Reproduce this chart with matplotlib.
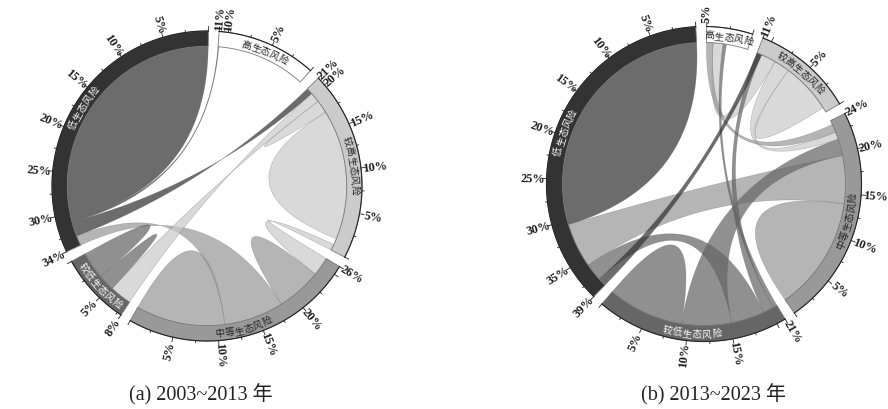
#!/usr/bin/python
# -*- coding: utf-8 -*-
import numpy as np
from matplotlib import pyplot as plt
from matplotlib.colors import to_rgb
from matplotlib.path import Path
from matplotlib.patches import PathPatch

names = ['高生态风险', '较高生态风险', '中等生态风险', '较低生态风险', '低生态风险']
values_a = [11, 21, 26, 8, 34]
values_b = [5, 11, 24, 21, 39]

tick_labels_a = [[5, 10, 11], [5, 10, 15, 20, 21], [5, 10, 15, 20, 26], [5, 8], [5, 10, 15, 20, 25, 30, 34]]
tick_labels_b = [[5], [5, 11], [5, 10, 15, 20, 24], [5, 10, 15, 21], [5, 10, 15, 20, 25, 30, 35, 39]]

# (sector, from %, to %, sector, from %, to %), colour comes from the first sector
flows_a = [
    (4, 0, 15.35, 4, 15.35, 30.7),
    (4, 30.7, 31, 0, 10.9, 11),
    (4, 31, 32.8, 1, 21, 20.2),
    (1, 1.5, 9.4, 1, 9.4, 17.4),
    (1, 17.4, 18.2, 1, 18.2, 19),
    (2, 0, 5.45, 2, 5.45, 10.9),
    (2, 18.2, 10.9, 4, 32.8, 34),
    (2, 18.2, 21, 2, 21, 23.7),
    (1, 0, 0.75, 2, 23.7, 26),
    (3, 0, 1.65, 3, 1.65, 3.3),
    (3, 3.3, 4.3, 3, 4.3, 5.35),
    (1, 19, 20.2, 3, 8, 5.35),
]
flows_b = [
    (4, 0, 15.25, 4, 15.25, 30.5),
    (2, 0, 6.9, 2, 6.9, 13.8),
    (2, 13.8, 19.6, 4, 30.5, 35.9),
    (1, 0.6, 3.6, 1, 3.6, 6.7),
    (1, 6.7, 8.6, 2, 21.6, 22.5),
    (1, 10.4, 8.6, 0, 3, 4.2),
    (2, 22.5, 23.5, 0, 4.2, 5),
    (3, 0, 4.6, 3, 4.6, 9.2),
    (3, 9.2, 15.2, 2, 19.6, 21.6),
    (3, 15.2, 19.2, 4, 35.9, 38),
    (3, 19.2, 20.5, 1, 10.4, 11),
    (3, 20.5, 21, 0, 2.6, 3),
    (4, 38, 39, 1, 10.4, 11),
]

band_colors = ['#ffffff', '#cbcbcb', '#999999', '#666666', '#333333']
text_colors = ['#222222', '#222222', '#222222', '#ffffff', '#ffffff']
GAP = 4.0
SCALE = 3.4


def pt(c, r, th):
    th = np.radians(th)
    return np.column_stack([c[0] + r * np.sin(th), c[1] - r * np.cos(th)])


def bezier(p0, c, p1):
    # touching ends: nothing to draw, otherwise it would run to the centre and back
    if np.allclose(p0, p1):
        return p0
    t = np.linspace(0, 1, 80)[:, None]
    return (1 - t) ** 2 * p0 + 2 * t * (1 - t) * np.array(c) + t ** 2 * p1


def fill(ax, pts, **kw):
    verts = np.vstack([pts, pts[:1]])
    codes = [Path.MOVETO] + [Path.LINETO] * (len(pts) - 1) + [Path.CLOSEPOLY]
    ax.add_patch(PathPatch(Path(verts, codes), **kw))


def draw_chord(ax, c, R, band, start, values, flows, tick_labels):
    ends = []
    a = start
    for v in values:
        ends.append(a + v * SCALE)
        a += v * SCALE + GAP
    r_in = R - band

    def ang(s, p):
        return ends[s] - np.asarray(p) * SCALE

    # ribbons
    for s1, a0, a1, s2, b0, b1 in flows:
        arc1 = pt(c, r_in, ang(s1, np.linspace(a0, a1, 40)))
        arc2 = pt(c, r_in, ang(s2, np.linspace(b0, b1, 40)))
        pts = np.vstack([arc1, bezier(arc1[-1:], c, arc2[:1]),
                         arc2, bezier(arc2[-1:], c, arc1[:1])])
        rgb = to_rgb(band_colors[s1])
        fill(ax, pts, facecolor=rgb + (0.72,), edgecolor=(0.3, 0.3, 0.3, 0.35), lw=0.4)

    # sectors, ticks and labels
    for i, v in enumerate(values):
        th = np.linspace(ang(i, v), ang(i, 0), 120)
        outer = pt(c, R, th)
        inner = pt(c, r_in, th[::-1])
        fill(ax, np.vstack([outer, inner]), facecolor=band_colors[i], edgecolor='#777777', lw=0.6)
        ax.plot(outer[:, 0], outer[:, 1], color='#222222', lw=0.8)

        for p in np.append(np.arange(0, v, 2.5), v):
            major = p % 5 == 0 or p == v
            t0 = ang(i, p)
            seg = np.vstack([pt(c, R, t0), pt(c, R + (4.5 if major else 2.2), t0)])
            ax.plot(seg[:, 0], seg[:, 1], color='#222222', lw=0.6)
        for p in tick_labels[i]:
            t0 = ang(i, p)
            x, y = pt(c, R + 14, t0)[0]
            rot = 90 - t0 if t0 % 360 < 180 else 270 - t0
            ax.text(x, y, '%d%%' % p, rotation=rot, rotation_mode='anchor',
                    ha='center', va='center', family='Liberation Serif',
                    fontweight='bold', fontsize=8.8, color='#1a1a1a')

        # name follows the ring, one character at a time
        name = names[i]
        mid = ang(i, v / 2.0)
        step = np.degrees(9.8 / (r_in + band / 2.0))
        for k, ch in enumerate(name):
            off = (k - (len(name) - 1) / 2.0) * step
            flip = 90 < mid % 360 < 270
            t0 = mid - off if flip else mid + off
            x, y = pt(c, r_in + band / 2.0, t0)[0]
            rot = 180 - t0 if flip else -t0
            ax.text(x, y, ch, rotation=rot, rotation_mode='anchor', ha='center', va='center',
                    family='Noto Sans CJK SC', fontsize=7, color=text_colors[i])


fig = plt.figure(figsize=(8.88, 4.10), dpi=100)
ax = fig.add_axes([0, 0, 1, 1])
ax.set_xlim(0, 888)
ax.set_ylim(410, 0)
ax.axis('off')

draw_chord(ax, (207, 187), 155, 15.3, 4.5, values_a, flows_a, tick_labels_a)
draw_chord(ax, (704, 185), 157.5, 16, 1.0, values_b, flows_b, tick_labels_b)

cap_font = ['Liberation Serif', 'Noto Sans CJK SC']
ax.text(201, 395, '(a) 2003~2013 年', ha='center', va='center', family=cap_font, fontsize=14.5, color='#222222')
ax.text(713, 395, '(b) 2013~2023 年', ha='center', va='center', family=cap_font, fontsize=14.5, color='#222222')

fig.savefig('out.png', dpi=100)
